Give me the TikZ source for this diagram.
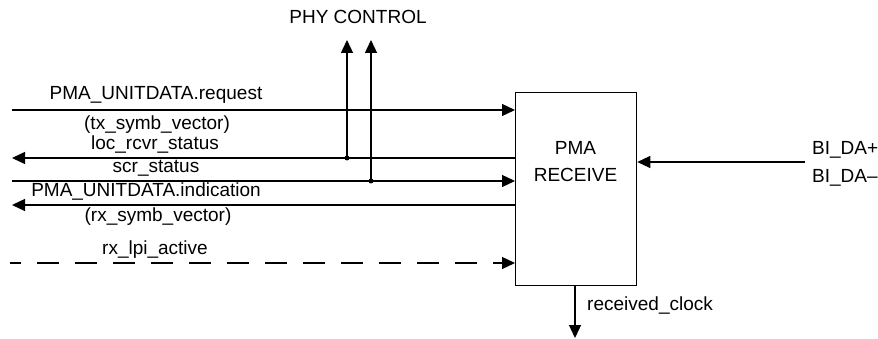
\documentclass[tikz,border=0pt]{standalone}
\usepackage{fontspec}
\setmainfont{Liberation Sans}
\usetikzlibrary{positioning,arrows.meta,calc}

\tikzset{
  sigline/.style={line width=1.3pt},
  sigarrow/.style={sigline, -{Triangle[length=13pt,width=12pt]}},
  sigtext/.style={inner sep=0pt, font=\fontsize{19}{27}\selectfont},
  junction/.style={circle, fill=black, inner sep=0pt, minimum size=5pt},
}

\begin{document}
\begin{tikzpicture}[x=1pt, y=-1pt]
  \useasboundingbox (0,0) rectangle (878,339);

  % receive block
  \node[draw, sigline, anchor=north west, minimum width=121pt,
        minimum height=193pt, inner sep=0pt] (pmarx) at (515,92) {};
  \node[sigtext, align=center] (pmarxlbl) at (575.5,161.5) {PMA\\RECEIVE};

  % service interface, left side
  \coordinate (reqL) at (12,110);
  \coordinate (locL) at (12,158);
  \coordinate (scrL) at (12,181);
  \coordinate (indL) at (12,205);
  \coordinate (lpiL) at (10,263);

  \draw[sigarrow] (reqL) -- (reqL -| pmarx.west);
  \draw[sigarrow] (locL -| pmarx.west) -- (locL);
  \draw[sigarrow] (scrL) -- (scrL -| pmarx.west);
  \draw[sigarrow] (indL -| pmarx.west) -- (indL);
  \draw[sigarrow, dash pattern=on 22pt off 16pt, dash phase=11pt]
    (lpiL) -- (lpiL -| pmarx.west);

  \node[sigtext] (reqlbl) at (156,95) {PMA\_UNITDATA.request};
  \node[sigtext] (txlbl) at (157,125) {(tx\_symb\_vector)};
  \node[sigtext] (loclbl) at (155,145) {loc\_rcvr\_status};
  \node[sigtext] (scrlbl) at (156,168) {scr\_status};
  \node[sigtext] (indlbl) at (146,192) {PMA\_UNITDATA.indication};
  \node[sigtext] (rxlbl) at (158,217) {(rx\_symb\_vector)};
  \node[sigtext] (lpilbl) at (155,250) {rx\_lpi\_active};

  % PHY control taps
  \node[junction] (locjn) at (347,158) {};
  \node[junction] (scrjn) at (371,181) {};
  \coordinate (phyA) at (347,40);
  \coordinate (phyB) at (371,40);
  \draw[sigarrow] (locjn.center) -- (phyA);
  \draw[sigarrow] (scrjn.center) -- (phyB);
  \node[sigtext] (phylbl) at (358,17) {PHY CONTROL};

  % medium side
  \coordinate (biR) at (805,162);
  \draw[sigarrow] (biR) -- (biR -| pmarx.east);
  \node[sigtext, anchor=west] (biplbl) at (812,150) {BI\_DA+};
  \node[sigtext, anchor=west] (bimlbl) at (812,178) {BI\_DA–};

  % recovered clock
  \coordinate (clkB) at (575,338);
  \draw[sigarrow] (pmarx.south -| clkB) -- (clkB);
  \node[sigtext, anchor=west] (clklbl) at (587,306) {received\_clock};
\end{tikzpicture}
\end{document}
